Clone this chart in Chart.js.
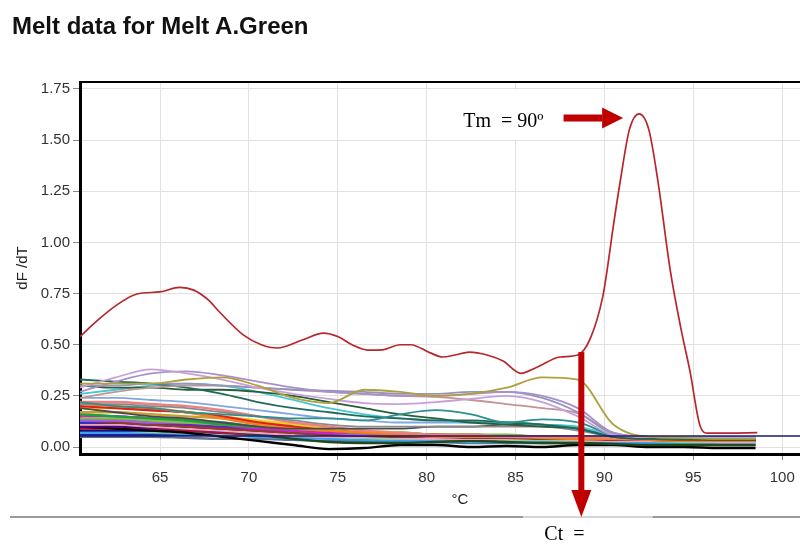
<!DOCTYPE html>
<html><head><meta charset="utf-8">
<script src="https://cdn.jsdelivr.net/npm/chart.js@4.4.1/dist/chart.umd.min.js"></script>
<style>
html,body{margin:0;padding:0;background:#fff;overflow:hidden;width:800px;height:545px}
#wrap{position:relative;width:800px;height:545px;overflow:hidden;background:#fff}
#title{position:absolute;left:12px;top:12px;font:bold 24px "Liberation Sans",Arial,sans-serif;color:#111;white-space:nowrap}
canvas{position:absolute;left:0;top:0}
</style></head><body>
<div id="wrap"><canvas id="c" width="840" height="545"></canvas><div id="title">Melt data for Melt A.Green</div></div>
<script>
// ---- data ----
const xTicks = [65, 70, 75, 80, 85, 90, 95, 100];
const yTicks = [0.00, 0.25, 0.50, 0.75, 1.00, 1.25, 1.50, 1.75];

const redTemps = [60.5, 61.5, 62.5, 63.7, 65.0, 66.1, 66.9, 67.7, 68.4, 69.7, 70.7, 71.6, 73.0, 74.2, 75.0, 75.8, 76.7, 77.5, 78.5, 79.1, 80.2, 80.9, 81.6, 82.4, 83.4, 84.3, 85.3, 86.2, 87.5, 88.5, 89.2, 89.9, 90.15, 90.5, 90.9, 91.4, 91.95, 92.5, 93.0, 93.7, 94.3, 94.8, 95.4, 95.8, 97.0, 98.6];
const redValues = [0.54, 0.62, 0.69, 0.748, 0.758, 0.78, 0.767, 0.72, 0.655, 0.547, 0.50, 0.484, 0.523, 0.557, 0.54, 0.50, 0.474, 0.475, 0.50, 0.50, 0.46, 0.44, 0.45, 0.464, 0.45, 0.42, 0.36, 0.39, 0.44, 0.45, 0.53, 0.733, 0.865, 1.08, 1.305, 1.55, 1.628, 1.55, 1.305, 0.865, 0.58, 0.376, 0.098, 0.068, 0.068, 0.07];

const bgTemps = [60.5, 62.5, 64.5, 66.5, 68.5, 70.5, 72.5, 74.5, 76.5, 78.5, 80.5, 82.5, 84.5, 86.5, 88.5, 90.5, 92.5, 94.5, 96.5, 98.5];

const olive      = [0.31, 0.31, 0.31, 0.33, 0.34, 0.30, 0.24, 0.215, 0.28, 0.27, 0.25, 0.26, 0.29, 0.34, 0.33, 0.11, 0.05, 0.045, 0.04, 0.04];
const lavender   = [0.29, 0.34, 0.38, 0.36, 0.33, 0.29, 0.26, 0.235, 0.215, 0.21, 0.22, 0.235, 0.25, 0.22, 0.15, 0.06, 0.05, 0.05, 0.045, 0.045];
const lilac      = [0.27, 0.32, 0.36, 0.37, 0.35, 0.32, 0.29, 0.27, 0.26, 0.25, 0.25, 0.26, 0.27, 0.25, 0.19, 0.07, 0.05, 0.05, 0.045, 0.045];
const grayPurple = [0.30, 0.30, 0.31, 0.31, 0.30, 0.29, 0.28, 0.275, 0.27, 0.26, 0.26, 0.27, 0.27, 0.24, 0.17, 0.065, 0.05, 0.05, 0.045, 0.045];
const pinkBrown  = [0.24, 0.27, 0.29, 0.30, 0.30, 0.29, 0.28, 0.27, 0.26, 0.25, 0.245, 0.23, 0.21, 0.19, 0.165, 0.07, 0.05, 0.05, 0.045, 0.045];
const teal       = [0.22, 0.20, 0.19, 0.17, 0.16, 0.15, 0.14, 0.14, 0.13, 0.16, 0.18, 0.16, 0.12, 0.135, 0.12, 0.06, 0.05, 0.045, 0.04, 0.04];
const darkTeal   = [0.33, 0.32, 0.31, 0.29, 0.26, 0.22, 0.19, 0.17, 0.15, 0.14, 0.13, 0.13, 0.12, 0.11, 0.09, 0.05, 0.045, 0.04, 0.04, 0.04];
const darkGreen  = [0.30, 0.29, 0.29, 0.28, 0.28, 0.27, 0.25, 0.22, 0.19, 0.16, 0.14, 0.12, 0.11, 0.10, 0.09, 0.05, 0.04, 0.04, 0.035, 0.035];
const cyan       = [0.26, 0.28, 0.30, 0.31, 0.30, 0.27, 0.23, 0.19, 0.16, 0.14, 0.13, 0.12, 0.12, 0.11, 0.10, 0.06, 0.05, 0.05, 0.045, 0.045];
const lightBlue  = [0.24, 0.24, 0.23, 0.22, 0.20, 0.18, 0.16, 0.14, 0.13, 0.12, 0.12, 0.12, 0.12, 0.11, 0.09, 0.06, 0.05, 0.05, 0.05, 0.05];
const gray       = [0.21, 0.21, 0.20, 0.19, 0.17, 0.15, 0.13, 0.11, 0.10, 0.10, 0.10, 0.10, 0.10, 0.10, 0.08, 0.05, 0.04, 0.04, 0.04, 0.04];
const darkGray   = [0.19, 0.17, 0.15, 0.14, 0.12, 0.10, 0.09, 0.09, 0.09, 0.09, 0.10, 0.10, 0.11, 0.11, 0.09, 0.05, 0.04, 0.035, 0.035, 0.035];
const red        = [0.20, 0.19, 0.18, 0.17, 0.15, 0.12, 0.10, 0.08, 0.07, 0.06, 0.06, 0.05, 0.05, 0.05, 0.05, 0.04, 0.04, 0.035, 0.03, 0.03];
const orange     = [0.21, 0.20, 0.19, 0.17, 0.14, 0.11, 0.09, 0.08, 0.07, 0.06, 0.05, 0.05, 0.05, 0.045, 0.04, 0.04, 0.035, 0.03, 0.03, 0.03];
const yellow     = [0.19, 0.19, 0.18, 0.17, 0.15, 0.13, 0.11, 0.09, 0.08, 0.07, 0.06, 0.06, 0.05, 0.05, 0.05, 0.045, 0.04, 0.04, 0.04, 0.04];
const gold       = [0.17, 0.17, 0.16, 0.15, 0.14, 0.12, 0.10, 0.08, 0.07, 0.06, 0.06, 0.05, 0.05, 0.05, 0.05, 0.045, 0.04, 0.04, 0.04, 0.04];
const green      = [0.16, 0.15, 0.14, 0.13, 0.11, 0.10, 0.09, 0.08, 0.07, 0.07, 0.06, 0.06, 0.05, 0.05, 0.05, 0.04, 0.04, 0.035, 0.03, 0.03];
const lime       = [0.14, 0.14, 0.13, 0.12, 0.11, 0.10, 0.09, 0.08, 0.07, 0.07, 0.06, 0.06, 0.06, 0.05, 0.05, 0.05, 0.045, 0.04, 0.04, 0.04];
const magenta    = [0.15, 0.15, 0.14, 0.13, 0.11, 0.09, 0.08, 0.07, 0.07, 0.06, 0.06, 0.06, 0.05, 0.05, 0.05, 0.045, 0.04, 0.04, 0.04, 0.04];
const purple     = [0.13, 0.13, 0.12, 0.11, 0.10, 0.09, 0.08, 0.07, 0.06, 0.06, 0.05, 0.05, 0.05, 0.05, 0.045, 0.04, 0.04, 0.035, 0.035, 0.035];
const blue       = [0.12, 0.12, 0.11, 0.11, 0.10, 0.09, 0.08, 0.07, 0.06, 0.06, 0.06, 0.05, 0.05, 0.05, 0.05, 0.045, 0.04, 0.04, 0.04, 0.04];
const navy       = [0.08, 0.08, 0.08, 0.08, 0.07, 0.07, 0.06, 0.06, 0.06, 0.05, 0.05, 0.05, 0.05, 0.045, 0.045, 0.04, 0.04, 0.035, 0.035, 0.035];
const darkBlue   = [0.06, 0.06, 0.06, 0.06, 0.06, 0.055, 0.05, 0.05, 0.05, 0.05, 0.045, 0.045, 0.04, 0.04, 0.04, 0.035, 0.035, 0.03, 0.03, 0.03];
const black      = [0.10, 0.09, 0.08, 0.07, 0.05, 0.03, 0.01, -0.01, -0.005, 0.01, 0.01, 0.0, 0.005, 0.0, 0.01, 0.01, 0.0, 0.0, -0.005, -0.005];
const pink       = [0.11, 0.11, 0.10, 0.09, 0.08, 0.07, 0.06, 0.05, 0.05, 0.045, 0.04, 0.04, 0.04, 0.04, 0.035, 0.03, 0.03, 0.03, 0.025, 0.025];
const brown      = [0.13, 0.12, 0.11, 0.10, 0.09, 0.08, 0.07, 0.06, 0.055, 0.05, 0.05, 0.045, 0.045, 0.04, 0.04, 0.035, 0.035, 0.03, 0.03, 0.03];
const crimson    = [0.09, 0.09, 0.09, 0.08, 0.07, 0.06, 0.06, 0.055, 0.05, 0.05, 0.05, 0.05, 0.05, 0.05, 0.05, 0.045, 0.045, 0.04, 0.04, 0.04];
const sky        = [0.07, 0.07, 0.07, 0.065, 0.06, 0.05, 0.045, 0.04, 0.035, 0.03, 0.03, 0.025, 0.025, 0.025, 0.02, 0.02, 0.02, 0.02, 0.02, 0.02];
const violet     = [0.13, 0.13, 0.12, 0.12, 0.11, 0.10, 0.08, 0.07, 0.06, 0.06, 0.055, 0.05, 0.05, 0.05, 0.05, 0.045, 0.04, 0.04, 0.04, 0.04];
const forest     = [0.11, 0.11, 0.10, 0.09, 0.08, 0.06, 0.04, 0.025, 0.02, 0.02, 0.025, 0.03, 0.025, 0.02, 0.02, 0.015, 0.01, 0.01, 0.01, 0.01];
const salmon     = [0.22, 0.22, 0.21, 0.20, 0.18, 0.15, 0.12, 0.10, 0.08, 0.07, 0.06, 0.06, 0.05, 0.05, 0.05, 0.045, 0.04, 0.04, 0.04, 0.04];
const slate      = [0.05, 0.05, 0.05, 0.045, 0.04, 0.04, 0.035, 0.03, 0.03, 0.025, 0.025, 0.02, 0.02, 0.02, 0.02, 0.015, 0.015, 0.015, 0.01, 0.01];
const teal2      = [0.16, 0.15, 0.14, 0.13, 0.12, 0.10, 0.09, 0.08, 0.07, 0.065, 0.06, 0.06, 0.055, 0.05, 0.05, 0.045, 0.04, 0.04, 0.04, 0.04];
const indigo     = [0.10, 0.10, 0.095, 0.09, 0.08, 0.07, 0.065, 0.06, 0.055, 0.05, 0.05, 0.05, 0.045, 0.045, 0.04, 0.04, 0.035, 0.035, 0.035, 0.035];
const lightGreen = [0.08, 0.08, 0.075, 0.07, 0.065, 0.06, 0.055, 0.05, 0.045, 0.04, 0.04, 0.035, 0.035, 0.035, 0.03, 0.03, 0.03, 0.025, 0.025, 0.025];
const wine       = [0.12, 0.12, 0.11, 0.10, 0.09, 0.08, 0.07, 0.065, 0.06, 0.055, 0.05, 0.05, 0.045, 0.045, 0.04, 0.04, 0.04, 0.035, 0.035, 0.035];

const thresholdValue = 0.054;
const tmLabel = "Tm  = 90º";
const tmArrowFrom = [87.7, 1.608];
const tmArrowTo = [91.05, 1.608];
const ctLabel = "Ct  =";
const ctArrowAt = [88.7, 0.464];

// ---- styles ----
const bgSeries = [
  [olive,'#b0a03c'],[lavender,'#c8a0d8'],[lilac,'#a890cc'],[grayPurple,'#9494bc'],[pinkBrown,'#c49494'],
  [teal,'#2f8f8f'],[darkTeal,'#1f6a5a'],[darkGreen,'#2a5e3a'],[cyan,'#46c6d6'],[lightBlue,'#80a8e0'],
  [gray,'#8a8a8a'],[darkGray,'#4a4a4a'],[salmon,'#f08080'],[orange,'#f08020'],[red,'#e02020'],
  [yellow,'#e8d020'],[gold,'#c8a030'],[green,'#20a040'],[lime,'#80c040'],[magenta,'#d020d0'],
  [teal2,'#209a9a'],[violet,'#a060e0'],[purple,'#7020c0'],[brown,'#904020'],[blue,'#2030e0'],
  [wine,'#800040'],[pink,'#f0a0c8'],[forest,'#1e4a1e'],[indigo,'#4b0082'],[black,'#000000'],
  [crimson,'#b01040'],[navy,'#101090'],[lightGreen,'#90d090'],[sky,'#40a0f0'],[darkBlue,'#2020b0'],[slate,'#607090']
];

const X_MIN = 60.5, X_MAX = 103.25, Y_MIN = -0.034, Y_MAX = 1.784;

const datasets = [];
datasets.push({
  data: redTemps.map((t,i)=>({x:t,y:redValues[i]})),
  borderColor:'#b8262c', borderWidth:1.7, pointRadius:0, cubicInterpolationMode:'monotone'
});
datasets.push({
  data:[{x:X_MIN,y:thresholdValue},{x:X_MAX,y:thresholdValue}],
  borderColor:'#1a1a6e', borderWidth:1.3, pointRadius:0
});
bgSeries.forEach(([vals,col],i)=>{
  datasets.push({
    data: bgTemps.map((t,j)=>({x:t,y:vals[j]})),
    borderColor:col, borderWidth: i < 12 ? 1.8 : 2.4, pointRadius:0, cubicInterpolationMode:'monotone'
  });
});

const FONT = '"Liberation Sans", Arial, sans-serif';

const annot = {
  id:'annot',
  beforeDatasetsDraw(chart){
    const {ctx, scales:{x,y}} = chart;
    const sx = x.getPixelForValue(tmArrowFrom[0]);
    const sy = y.getPixelForValue(tmArrowFrom[1]);
    ctx.save();
    ctx.fillStyle='#fff';
    ctx.fillRect(sx-126, sy-28, 133, 50);
    ctx.restore();
  },
  afterDatasetsDraw(chart){
    const {ctx, chartArea:a} = chart;
    ctx.save();
    ctx.strokeStyle='#000'; ctx.lineWidth=2;
    ctx.beginPath(); ctx.moveTo(a.left, a.top); ctx.lineTo(a.right, a.top); ctx.stroke();
    ctx.restore();
  },
  afterDraw(chart){
    const {ctx, chartArea:a, scales:{x,y}} = chart;
    ctx.save();
    const sx = x.getPixelForValue(tmArrowFrom[0]);
    const tx = x.getPixelForValue(tmArrowTo[0]);
    const ty = y.getPixelForValue(tmArrowTo[1]);
    ctx.fillStyle='#000';
    ctx.font='20px "Liberation Serif", "Times New Roman", serif';
    ctx.textAlign='right'; ctx.textBaseline='alphabetic';
    ctx.fillText(tmLabel, sx-20, ty+9);
    ctx.fillStyle='#c00000';
    ctx.fillRect(sx, ty-3.5, (tx-21)-sx, 7);
    ctx.beginPath(); ctx.moveTo(tx-21, ty-10.5); ctx.lineTo(tx, ty); ctx.lineTo(tx-21, ty+10.5); ctx.closePath(); ctx.fill();

    const lineY = a.bottom + 63;
    const cx = x.getPixelForValue(ctArrowAt[0]);
    ctx.strokeStyle='#9a9a9a'; ctx.lineWidth=2;
    ctx.beginPath(); ctx.moveTo(10, lineY); ctx.lineTo(cx-58, lineY); ctx.stroke();
    ctx.beginPath(); ctx.moveTo(cx+71, lineY); ctx.lineTo(800, lineY); ctx.stroke();
    ctx.strokeStyle='#d4d4d4';
    ctx.beginPath(); ctx.moveTo(cx-58, lineY); ctx.lineTo(cx+71, lineY); ctx.stroke();

    const cTop = y.getPixelForValue(ctArrowAt[1]);
    const tip = lineY;
    ctx.fillStyle='#c00000';
    ctx.fillRect(cx-3, cTop, 6, (tip-27)-cTop);
    ctx.beginPath(); ctx.moveTo(cx-10, tip-27); ctx.lineTo(cx, tip); ctx.lineTo(cx+10, tip-27); ctx.closePath(); ctx.fill();

    ctx.fillStyle='#000';
    ctx.font='20px "Liberation Serif", "Times New Roman", serif';
    ctx.textAlign='left';
    ctx.fillText(ctLabel, cx-37, lineY+23);
    ctx.restore();
  }
};

new Chart(document.getElementById('c'), {
  type:'line',
  data:{datasets},
  options:{
    responsive:false, animation:false, devicePixelRatio:1,
    layout:{padding:{top:82, left:0, right:0, bottom:35}},
    plugins:{legend:{display:false}, tooltip:{enabled:false}},
    elements:{line:{borderJoinStyle:'round'}},
    scales:{
      x:{
        type:'linear', min:X_MIN, max:X_MAX,
        afterFit(s){ s.height = 56; },
        afterBuildTicks(s){ s.ticks = xTicks.map(v=>({value:v})); },
        grid:{color:'#e2e2e2', lineWidth:1, tickLength:6, tickColor:'#888'},
        border:{color:'#000', width:3},
        ticks:{font:{family:FONT, size:15}, color:'#333', padding:9, callback:v=>String(v), maxRotation:0},
        title:{display:true, text:'°C', font:{family:FONT, size:15}, color:'#222', padding:{top:0,bottom:1}}
      },
      y:{
        type:'linear', min:Y_MIN, max:Y_MAX,
        afterFit(s){ s.width = 80; },
        afterBuildTicks(s){ s.ticks = yTicks.map(v=>({value:v})); },
        grid:{color:'#e2e2e2', lineWidth:1, tickLength:7, tickColor:'#888'},
        border:{color:'#000', width:3},
        ticks:{font:{family:FONT, size:15}, color:'#333', padding:3, callback:v=>Number(v).toFixed(2)},
        title:{display:true, text:'dF /dT', font:{family:FONT, size:15}, color:'#222', padding:{top:14,bottom:0}}
      }
    }
  },
  plugins:[annot]
});
</script>
</body></html>
